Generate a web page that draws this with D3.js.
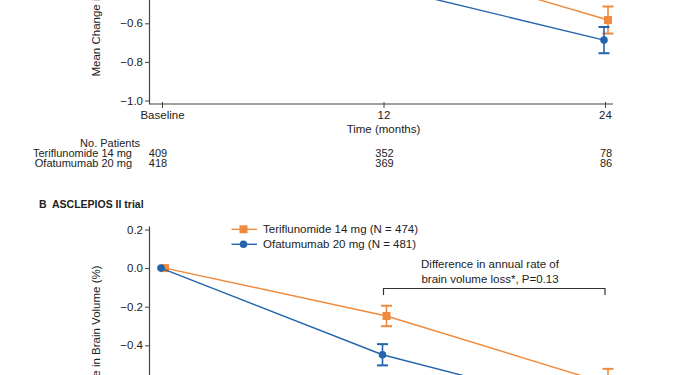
<!DOCTYPE html>
<html>
<head>
<meta charset="utf-8">
<script src="https://cdn.jsdelivr.net/npm/d3@7"></script>
<style>
  html, body { margin: 0; padding: 0; background: #fff; }
  svg { display: block; font-family: "Liberation Sans", Arial, sans-serif; }
</style>
</head>
<body>
<svg id="chart" width="685" height="375"></svg>
<script>
// ---------------- DATA ----------------
const months = [0, 12, 24];
const xTickLabels = ["Baseline", "12", "24"];
const yTicksA = [-0.6, -0.8, -1.0];          // visible part of panel A
const yTicksB = [0.2, 0.0, -0.2, -0.4];      // visible part of panel B

// Panel A (ASCLEPIOS I) — mean change and half-width of error bars
const aTeriMean = [0, -0.245, -0.583];
const aTeriErr  = [0, 0.05, 0.07];
const aOfaMean  = [0, -0.41, -0.687];
const aOfaErr   = [0, 0.05, 0.068];

// Panel B (ASCLEPIOS II)
const bTeriMean = [0, -0.248, -0.60];
const bTeriErr  = [0, 0.053, 0.078];
const bOfaMean  = [0, -0.449, -0.745];
const bOfaErr   = [0, 0.055, 0.07];

// Number of patients table (panel A)
const patientRows = ["Teriflunomide 14 mg", "Ofatumumab 20 mg"];
const patientsTeri = [409, 352, 78];
const patientsOfa  = [418, 369, 86];

const legendLabels = ["Teriflunomide 14 mg (N = 474)", "Ofatumumab 20 mg (N = 481)"];
const yLabel = "Mean Change in Brain Volume (%)";
const xLabel = "Time (months)";
const panelBTitle = "B  ASCLEPIOS II trial";
const annotLines = ["Difference in annual rate of", "brain volume loss*, P=0.13"];

// ---------------- STYLE ----------------
const ORANGE = "#F08A3C";
const BLUE = "#2364AC";
const AXIS = "#444";
const TEXT = "#222";
const FS = "11.5px";

const svg = d3.select("#chart");

const x = d3.scaleLinear().domain([0, 24]).range([162, 605]);
const yA = d3.scaleLinear().domain([-1.0, 0.2]).range([100.5, 100.5 - 1.2 * 193]);
const yB = d3.scaleLinear().domain([-1.0, 0.2]).range([229.5 + 1.2 * 193, 229.5]);
const fmt = d3.format(".1f");

const dodge = { teri: 3, ofa: -1 };

function drawPanel(y, ticks, axisTop, axisBottomY, xAxisY, series, labelCenterY) {
  const g = svg.append("g");
  // y axis
  const ya = d3.axisLeft(y).tickValues(ticks).tickFormat(fmt).tickSize(4).tickPadding(2);
  const yg = g.append("g").attr("transform", "translate(149,0)").call(ya);
  yg.select(".domain").remove();
  yg.selectAll(".tick line").attr("stroke", AXIS);
  yg.selectAll(".tick text").attr("fill", TEXT).style("font-size", FS).style("font-family", "Liberation Sans, Arial, sans-serif");
  g.append("line").attr("x1", 149.5).attr("x2", 149.5).attr("y1", axisTop).attr("y2", axisBottomY)
    .attr("stroke", AXIS).attr("stroke-width", 1.2);

  if (xAxisY !== null) {
    g.append("line").attr("x1", 149).attr("x2", 613).attr("y1", xAxisY).attr("y2", xAxisY)
      .attr("stroke", AXIS).attr("stroke-width", 1.2);
    const xa = d3.axisBottom(x).tickValues(months).tickFormat((d, i) => xTickLabels[i]).tickSize(4).tickPadding(3);
    const xg = g.append("g").attr("transform", `translate(0,${xAxisY})`).call(xa);
    xg.select(".domain").remove();
    xg.selectAll(".tick line").attr("stroke", AXIS).attr("y1", -2);
    xg.selectAll(".tick text").attr("fill", TEXT).style("font-size", FS).style("font-family", "Liberation Sans, Arial, sans-serif");
    g.append("text").attr("x", x(12)).attr("y", xAxisY + 29).attr("text-anchor", "middle")
      .attr("fill", TEXT).style("font-size", FS).text(xLabel);
  }

  // y label
  g.append("text").attr("transform", `translate(100,${labelCenterY}) rotate(-90)`)
    .attr("text-anchor", "middle").attr("fill", TEXT).style("font-size", FS).text(yLabel);

  series.forEach(s => {
    const pts = months.map((m, i) => ({ px: x(m) + s.dx, m: s.mean[i], e: s.err[i] }));
    const line = d3.line().x(d => d.px).y(d => y(d.m));
    g.append("path").attr("d", line(pts)).attr("fill", "none").attr("stroke", s.color).attr("stroke-width", 1.4);
    // error bars
    const eb = g.selectAll(null).data(pts.filter(d => d.e > 0)).enter().append("g");
    eb.append("line").attr("x1", d => d.px).attr("x2", d => d.px)
      .attr("y1", d => y(d.m + d.e)).attr("y2", d => y(d.m - d.e))
      .attr("stroke", s.color).attr("stroke-width", 1.6);
    [1, -1].forEach(sg => {
      eb.append("line").attr("x1", d => d.px - 5.5).attr("x2", d => d.px + 5.5)
        .attr("y1", d => y(d.m + sg * d.e)).attr("y2", d => y(d.m + sg * d.e))
        .attr("stroke", s.color).attr("stroke-width", 2);
    });
    // markers
    if (s.shape === "square") {
      g.selectAll(null).data(pts).enter().append("rect")
        .attr("x", d => d.px - 4).attr("y", d => y(d.m) - 4).attr("width", 8).attr("height", 8)
        .attr("fill", s.color);
    } else {
      g.selectAll(null).data(pts).enter().append("circle")
        .attr("cx", d => d.px).attr("cy", d => y(d.m)).attr("r", 3.8).attr("fill", s.color);
    }
  });
}

// Panel A (bottom portion visible)
drawPanel(yA, yTicksA, yA(0.2) - 3, 104, 104, [
  { mean: aTeriMean, err: aTeriErr, color: ORANGE, shape: "square", dx: dodge.teri },
  { mean: aOfaMean, err: aOfaErr, color: BLUE, shape: "circle", dx: dodge.ofa }
], -12);

// Patients table
const tbl = svg.append("g").style("font-size", "11px").attr("fill", TEXT);
tbl.append("text").attr("x", 140).attr("y", 146.5).attr("text-anchor", "end").text("No. Patients");
[patientsTeri, patientsOfa].forEach((row, r) => {
  const yy = 157 + r * 9.5;
  tbl.append("text").attr("x", 132).attr("y", yy).attr("text-anchor", "end").text(patientRows[r]);
  row.forEach((v, i) => {
    tbl.append("text").attr("x", x(months[i]) + (i === 0 ? -4 : 1)).attr("y", yy)
      .attr("text-anchor", "middle").text(v);
  });
});

// Panel B title
svg.append("text").attr("x", 39).attr("y", 207.5).attr("fill", TEXT)
  .style("font-size", "10.5px").style("font-weight", "bold").style("white-space", "pre")
  .attr("xml:space", "preserve").text(panelBTitle);

// Panel B
drawPanel(yB, yTicksB, 226.5, 400, null, [
  { mean: bTeriMean, err: bTeriErr, color: ORANGE, shape: "square", dx: dodge.teri },
  { mean: bOfaMean, err: bOfaErr, color: BLUE, shape: "circle", dx: dodge.ofa }
], 354);

// Legend
const leg = svg.append("g");
[{ c: ORANGE, shape: "square", y: 229.3 }, { c: BLUE, shape: "circle", y: 244.3 }].forEach((d, i) => {
  leg.append("line").attr("x1", 231.5).attr("x2", 257).attr("y1", d.y).attr("y2", d.y)
    .attr("stroke", d.c).attr("stroke-width", 1.4);
  if (d.shape === "square") {
    leg.append("rect").attr("x", 243.5 - 4).attr("y", d.y - 4).attr("width", 8).attr("height", 8).attr("fill", d.c);
  } else {
    leg.append("circle").attr("cx", 243.5).attr("cy", d.y).attr("r", 3.8).attr("fill", d.c);
  }
  leg.append("text").attr("x", 263).attr("y", d.y + 4).attr("fill", TEXT).style("font-size", FS).text(legendLabels[i]);
});

// Bracket annotation
svg.append("path")
  .attr("d", `M${x(12)},295 V288.5 H${x(24)} V295`)
  .attr("fill", "none").attr("stroke", "#333").attr("stroke-width", 1.2);
annotLines.forEach((t, i) => {
  svg.append("text").attr("x", 490).attr("y", 267.5 + i * 15).attr("text-anchor", "middle")
    .attr("fill", TEXT).style("font-size", FS).text(t);
});
</script>
</body>
</html>
